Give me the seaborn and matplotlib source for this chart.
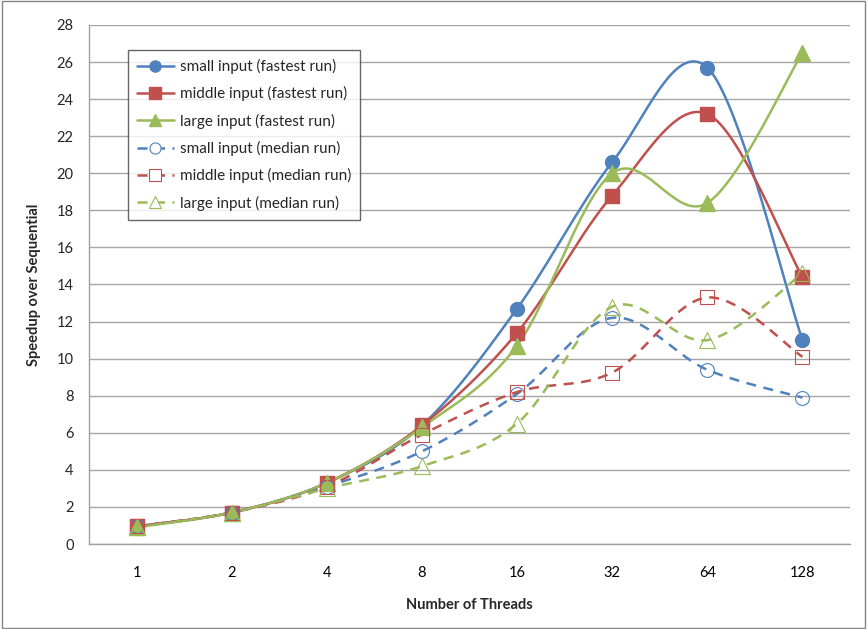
import numpy as np
import pandas as pd
import matplotlib.pyplot as plt
import seaborn as sns
from matplotlib.lines import Line2D
from matplotlib.patches import Rectangle

threads = ["1", "2", "4", "8", "16", "32", "64", "128"]

small_fastest = [0.95, 1.7, 3.3, 6.4, 12.7, 20.6, 25.7, 11.0]
middle_fastest = [0.95, 1.7, 3.3, 6.4, 11.4, 18.8, 23.2, 14.4]
large_fastest = [0.9, 1.7, 3.3, 6.3, 10.7, 20.0, 18.4, 26.5]
small_median = [0.95, 1.7, 3.1, 5.0, 8.1, 12.2, 9.4, 7.9]
middle_median = [0.95, 1.7, 3.1, 5.9, 8.2, 9.25, 13.3, 10.1]
large_median = [0.9, 1.7, 3.0, 4.2, 6.5, 12.8, 11.0, 14.6]

labels = ["small input (fastest run)", "middle input (fastest run)",
          "large input (fastest run)", "small input (median run)",
          "middle input (median run)", "large input (median run)"]

BLUE, RED, GREEN = "#4F81BD", "#C0504D", "#9BBB59"


def smooth(xs, ys, n=40):
    # Excel-style smoothed line (cubic bezier / catmull-rom)
    p = np.column_stack([xs, ys]).astype(float)
    p = np.vstack([p[0], p, p[-1]])
    out = []
    t = np.linspace(0, 1, n)[:, None]
    for i in range(1, len(p) - 2):
        p0, p1, p2, p3 = p[i - 1], p[i], p[i + 1], p[i + 2]
        c1 = p1 + (p2 - p0) / 6
        c2 = p2 - (p3 - p1) / 6
        seg = ((1 - t) ** 3) * p1 + 3 * ((1 - t) ** 2) * t * c1 + 3 * (1 - t) * t ** 2 * c2 + t ** 3 * p2
        out.append(seg if i == 1 else seg[1:])
    out = np.vstack(out)
    return out[:, 0], out[:, 1]


sns.set_style("white")
plt.rcParams["font.family"] = ["Lato", "DejaVu Sans"]

fig = plt.figure(figsize=(8.67, 6.29), dpi=100)
ax = fig.add_axes([0.1027, 0.1351, 0.8777, 0.8252])

series = [
    (small_fastest, BLUE, "-", "o", True),
    (middle_fastest, RED, "-", "s", True),
    (large_fastest, GREEN, "-", "^", True),
    (small_median, BLUE, (0, (4, 3)), "o", False),
    (middle_median, RED, (0, (4, 3)), "s", False),
    (large_median, GREEN, (0, (4, 3)), "^", False),
]

xpos = np.arange(len(threads))
handles = []
for (vals, col, ls, mk, filled), lab in zip(series, labels):
    sx, sy = smooth(xpos, vals)
    df = pd.DataFrame({"x": sx, "y": sy})
    sns.lineplot(data=df, x="x", y="y", ax=ax, color=col, linewidth=1.8,
                 linestyle=ls, sort=False, estimator=None)
    ms = 10 if mk != "^" else 11
    if filled:
        ax.plot(xpos, vals, linestyle="none", marker=mk, markersize=ms,
                color=col, markeredgecolor=col, zorder=4)
    else:
        ax.plot(xpos, vals, linestyle="none", marker=mk, markersize=ms,
                markerfacecolor="none", markeredgecolor=col,
                markeredgewidth=0.8, zorder=4)
    handles.append(Line2D([], [], color=col, linestyle=ls, linewidth=1.8,
                          marker=mk, markersize=8,
                          markerfacecolor=col if filled else "white",
                          markeredgecolor=col,
                          markeredgewidth=1 if filled else 0.8))

ax.set_xlim(-0.5, 7.5)
ax.set_ylim(0, 28)
ax.set_yticks(range(0, 29, 2))
ax.set_xticks(xpos)
ax.set_xticklabels(threads)
ax.set_xticks(np.arange(-0.5, 8, 1), minor=True)
ax.tick_params(axis="x", which="major", length=0, labelsize=10.5, pad=16, colors="black")
ax.tick_params(axis="x", which="minor", length=5, color="#A0A0A0", direction="out")
ax.tick_params(axis="y", length=5, color="#A0A0A0", direction="out", labelsize=10.5, pad=6)
ax.grid(axis="y", color="#A6A6A6", linewidth=1)
ax.set_axisbelow(True)

for side in ["top", "right"]:
    ax.spines[side].set_visible(False)
for side in ["left", "bottom"]:
    ax.spines[side].set_color("#A0A0A0")
    ax.spines[side].set_linewidth(1)

ax.set_xlabel("Number of Threads", fontsize=10.5, fontweight="bold", labelpad=13)
ax.set_ylabel("Speedup over Sequential", fontsize=10.5, fontweight="bold", labelpad=11)

leg = ax.legend(handles, labels, loc="upper left", bbox_to_anchor=(0.051, 0.952),
                borderaxespad=0, frameon=True, fancybox=False, fontsize=11,
                handlelength=2.4, labelspacing=0.8, borderpad=0.6, handletextpad=0.4)
leg.get_frame().set_edgecolor("#404040")
leg.get_frame().set_linewidth(1)

fig.patches.append(Rectangle((0.002, 0.002), 0.996, 0.996, transform=fig.transFigure,
                             fill=False, edgecolor="#868686", linewidth=1))

fig.savefig("out.png", dpi=100)
